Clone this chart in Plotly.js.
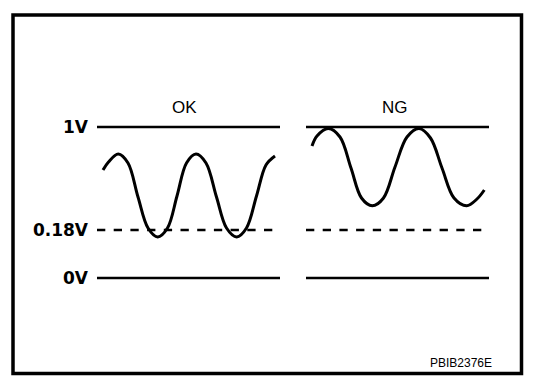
<!DOCTYPE html>
<html>
<head>
<meta charset="utf-8">
<script src="https://cdn.plot.ly/plotly-3.0.1.min.js"></script>
<style>html,body{margin:0;padding:0;background:#fff;}#chart{width:544px;height:384px;}</style>
</head>
<body>
<div id="chart"></div>
<script>
// Diagram units: time along each panel, level = height above the 0V line
const panelNames = ["OK", "NG"];
const levelLabels = ["1V", "0.18V", "0V"];
const levelValues = [151, 48, 0];
const refLineEnd = [183, 176, 183];   // where each reference line ends (time units)
const figureCode = "PBIB2376E";

const okTime  = [6, 11.5, 21.3, 31, 41, 51, 60.7, 70.5, 80, 89.5, 99, 109, 119.5, 129.5, 139.7, 149.5, 159.5, 169, 178];
const okLevel = [108, 116, 124, 115, 81, 50, 41, 50, 82, 115, 124, 115, 81, 50, 41, 50, 82, 113, 122];

const ngTime  = [6, 11, 22.3, 34, 45, 55.5, 66.3, 77.5, 89, 101, 113, 124.5, 136, 148, 160.7, 171, 178.3];
const ngLevel = [132, 142, 149.5, 141, 110, 80, 72.2, 80, 111, 141, 149.5, 140, 110, 80, 72.2, 79, 88];

const W = 544, H = 384;
const px = v => v / W, py = v => 1 - v / H;

const traces = [];
["x", "x2"].forEach(ax => {
  levelValues.forEach((lv, i) => {
    traces.push({
      type: "scatter", mode: "lines", xaxis: ax, yaxis: "y",
      x: [0, refLineEnd[i]], y: [lv, lv],
      line: {color: "#000", width: 2.5, dash: levelLabels[i] === "0.18V" ? "8.3px,8.4px" : "solid"},
      hoverinfo: "skip", showlegend: false
    });
  });
});
traces.push({type: "scatter", mode: "lines", xaxis: "x", yaxis: "y", x: okTime, y: okLevel,
  line: {color: "#000", width: 3, shape: "spline", smoothing: 1}, showlegend: false, name: panelNames[0]});
traces.push({type: "scatter", mode: "lines", xaxis: "x2", yaxis: "y", x: ngTime, y: ngLevel,
  line: {color: "#000", width: 3, shape: "spline", smoothing: 1}, showlegend: false, name: panelNames[1]});

const layout = {
  width: W, height: H,
  margin: {l: 0, r: 0, t: 0, b: 0, pad: 0},
  paper_bgcolor: "#fff", plot_bgcolor: "rgba(0,0,0,0)",
  showlegend: false,
  xaxis:  {domain: [px(97), px(280)], range: [0, 183], visible: false, fixedrange: true, anchor: "y"},
  xaxis2: {domain: [px(306), px(489)], range: [0, 183], visible: false, fixedrange: true, anchor: "y"},
  yaxis: {
    anchor: "x", domain: [0, 1], range: [-106, 278],
    tickvals: levelValues, ticktext: levelLabels,
    ticks: "", ticklabelstandoff: 8,
    showgrid: false, zeroline: false, showline: false, fixedrange: true,
    tickfont: {family: "DejaVu Sans", size: 17, weight: "bold", color: "#000"}
  },
  annotations: [
    {text: panelNames[0], xref: "x", yref: "y", x: 87, y: 171, showarrow: false,
     font: {family: "Liberation Sans, Arial", size: 17, color: "#000"}},
    {text: panelNames[1], xref: "x2", yref: "y", x: 89, y: 171, showarrow: false,
     font: {family: "Liberation Sans, Arial", size: 17, color: "#000"}},
    {text: figureCode, xref: "paper", yref: "paper", x: px(494), y: py(362.5), xanchor: "right", yanchor: "middle",
     showarrow: false, font: {family: "Liberation Sans, Arial", size: 12, color: "#000"}}
  ],
  shapes: [
    {type: "rect", xref: "paper", yref: "paper", x0: px(13), x1: px(521.5), y0: py(15), y1: py(373.5),
     line: {color: "#000", width: 3.5}, fillcolor: "rgba(0,0,0,0)"}
  ]
};

Plotly.newPlot("chart", traces, layout, {staticPlot: true, displayModeBar: false});
</script>
</body>
</html>
